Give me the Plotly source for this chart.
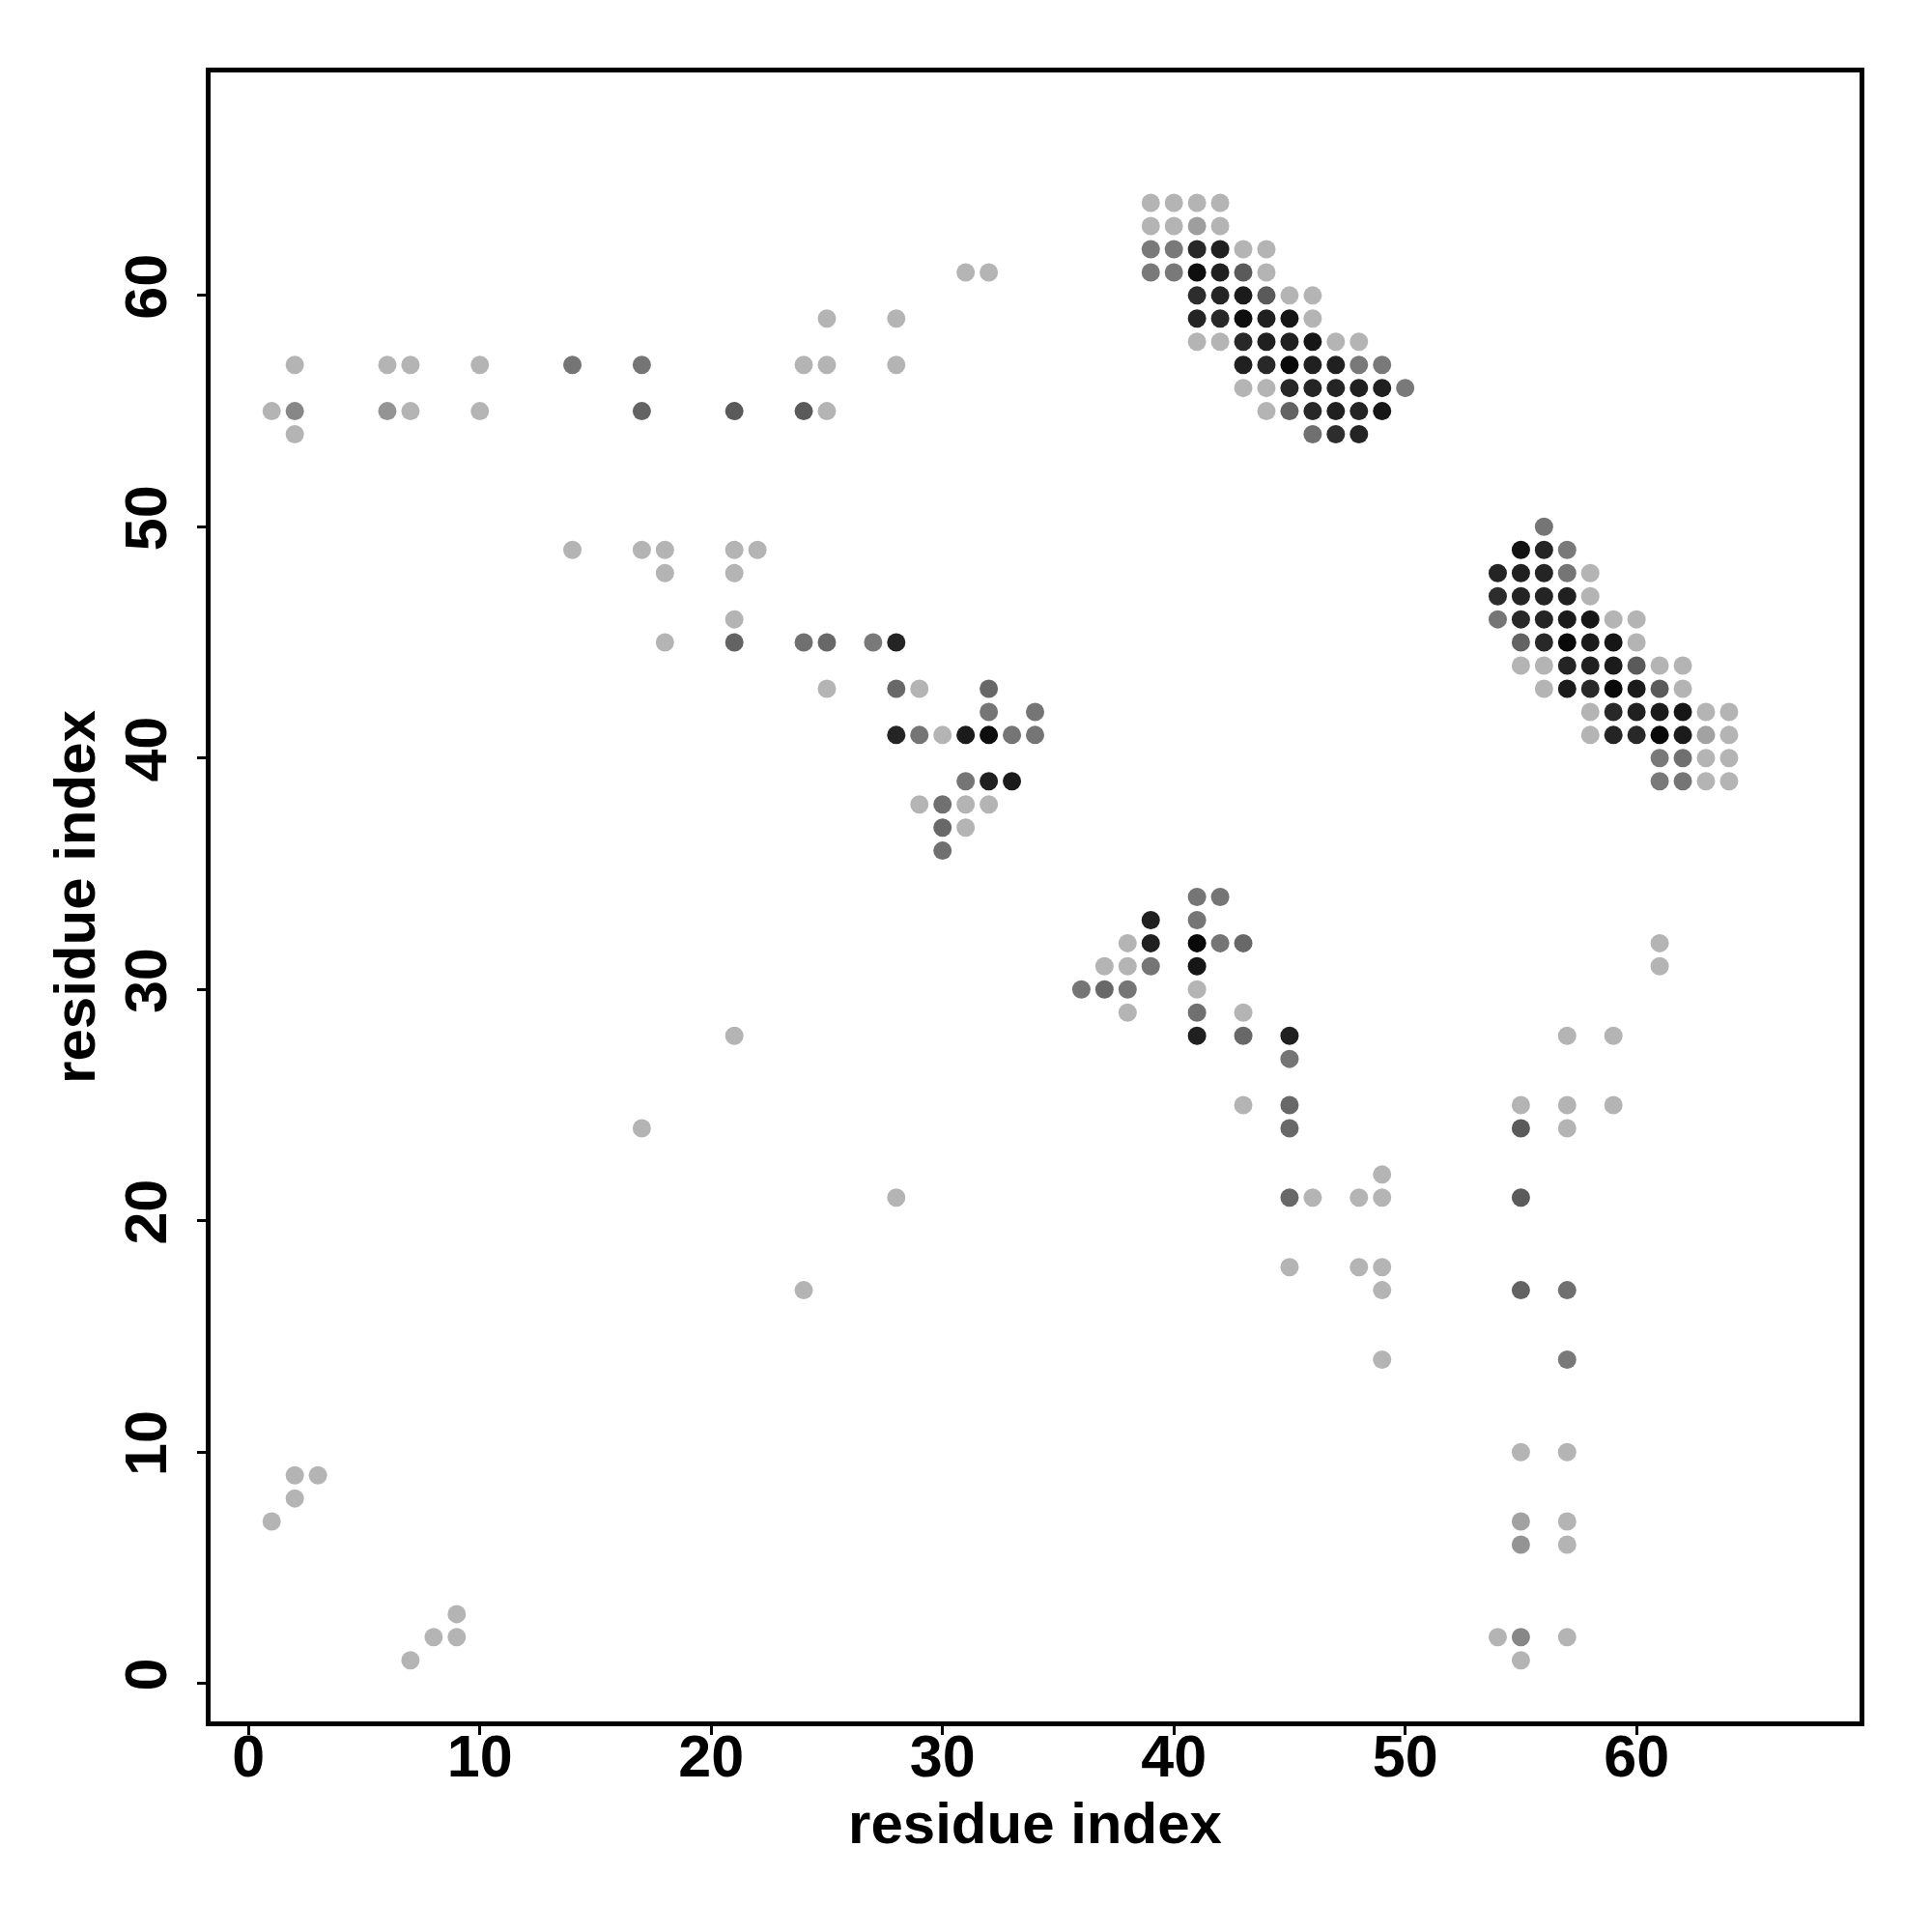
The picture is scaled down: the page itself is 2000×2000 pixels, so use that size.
import plotly.graph_objects as go

# contacts: (residue i, residue j, contact strength 0..1)
cluster_upper = [
    (39, 64, 0.0), (40, 64, 0.0), (41, 64, 0.0), (42, 64, 0.0),
    (39, 63, 0.0), (40, 63, 0.0), (41, 63, 0.12), (42, 63, 0.0),
    (39, 62, 0.33), (40, 62, 0.33), (41, 62, 0.78), (42, 62, 0.82), (43, 62, 0.0), (44, 62, 0.0),
    (39, 61, 0.33), (40, 61, 0.33), (41, 61, 0.92), (42, 61, 0.82), (43, 61, 0.5), (44, 61, 0.0),
    (41, 60, 0.75), (42, 60, 0.8), (43, 60, 0.85), (44, 60, 0.5), (45, 60, 0.0), (46, 60, 0.0),
    (41, 59, 0.8), (42, 59, 0.78), (43, 59, 0.92), (44, 59, 0.82), (45, 59, 0.88), (46, 59, 0.0),
    (41, 58, 0.0), (42, 58, 0.0), (43, 58, 0.78), (44, 58, 0.82), (45, 58, 0.82), (46, 58, 0.88), (47, 58, 0.0), (48, 58, 0.0),
    (43, 57, 0.82), (44, 57, 0.78), (45, 57, 0.95), (46, 57, 0.82), (47, 57, 0.82), (48, 57, 0.33), (49, 57, 0.33),
    (43, 56, 0.0), (44, 56, 0.0), (45, 56, 0.78), (46, 56, 0.8), (47, 56, 0.8), (48, 56, 0.82), (49, 56, 0.82), (50, 56, 0.33),
    (44, 55, 0.0), (45, 55, 0.45), (46, 55, 0.78), (47, 55, 0.82), (48, 55, 0.8), (49, 55, 0.88),
    (46, 54, 0.38), (47, 54, 0.75), (48, 54, 0.8),
]

cluster_right = [
    (56, 50, 0.35),
    (55, 49, 0.9), (56, 49, 0.8), (57, 49, 0.33),
    (54, 48, 0.8), (55, 48, 0.82), (56, 48, 0.8), (57, 48, 0.35), (58, 48, 0.0),
    (54, 47, 0.75), (55, 47, 0.8), (56, 47, 0.8), (57, 47, 0.82), (58, 47, 0.0),
    (54, 46, 0.35), (55, 46, 0.78), (56, 46, 0.8), (57, 46, 0.85), (58, 46, 0.88), (59, 46, 0.0), (60, 46, 0.0),
    (55, 45, 0.45), (56, 45, 0.78), (57, 45, 0.95), (58, 45, 0.85), (59, 45, 0.88), (60, 45, 0.0),
    (55, 44, 0.0), (56, 44, 0.0), (57, 44, 0.8), (58, 44, 0.82), (59, 44, 0.85), (60, 44, 0.5), (61, 44, 0.0), (62, 44, 0.0),
    (56, 43, 0.0), (57, 43, 0.85), (58, 43, 0.78), (59, 43, 0.95), (60, 43, 0.85), (61, 43, 0.5), (62, 43, 0.0),
    (58, 42, 0.0), (59, 42, 0.78), (60, 42, 0.82), (61, 42, 0.85), (62, 42, 0.88), (63, 42, 0.0), (64, 42, 0.0),
    (58, 41, 0.0), (59, 41, 0.8), (60, 41, 0.78), (61, 41, 0.95), (62, 41, 0.85), (63, 41, 0.1), (64, 41, 0.0),
    (61, 40, 0.33), (62, 40, 0.38), (63, 40, 0.0), (64, 40, 0.0),
    (61, 39, 0.33), (62, 39, 0.35), (63, 39, 0.0), (64, 39, 0.0),
]

cluster_middle = [
    (24, 45, 0.38), (25, 45, 0.42), (27, 45, 0.33), (28, 45, 0.8),
    (25, 43, 0.0), (28, 43, 0.42), (29, 43, 0.0), (32, 43, 0.42),
    (32, 42, 0.35), (34, 42, 0.35),
    (28, 41, 0.8), (29, 41, 0.35), (30, 41, 0.0), (31, 41, 0.85), (32, 41, 0.92), (33, 41, 0.35), (34, 41, 0.35),
    (31, 39, 0.35), (32, 39, 0.82), (33, 39, 0.85),
    (29, 38, 0.0), (30, 38, 0.38), (31, 38, 0.0), (32, 38, 0.0),
    (30, 37, 0.42), (31, 37, 0.0),
    (30, 36, 0.38),
]

cluster_lower = [
    (41, 34, 0.35), (42, 34, 0.35),
    (39, 33, 0.82), (41, 33, 0.35),
    (38, 32, 0.0), (39, 32, 0.82), (41, 32, 0.95), (42, 32, 0.35), (43, 32, 0.42),
    (37, 31, 0.0), (38, 31, 0.0), (39, 31, 0.35), (41, 31, 0.88),
    (36, 30, 0.35), (37, 30, 0.42), (38, 30, 0.35), (41, 30, 0.0),
    (38, 29, 0.0), (41, 29, 0.38), (43, 29, 0.0),
    (41, 28, 0.82), (43, 28, 0.42), (45, 28, 0.82),
    (45, 27, 0.35),
    (43, 25, 0.0), (45, 25, 0.42),
    (45, 24, 0.42),
    (49, 22, 0.0),
    (45, 21, 0.42), (46, 21, 0.0), (48, 21, 0.0), (49, 21, 0.0),
    (45, 18, 0.0), (48, 18, 0.0), (49, 18, 0.0),
    (49, 17, 0.0),
    (49, 14, 0.0),
]

row_top = [
    (2, 57, 0.0), (6, 57, 0.0), (7, 57, 0.0), (10, 57, 0.0), (14, 57, 0.35), (17, 57, 0.35),
    (1, 55, 0.0), (2, 55, 0.25), (6, 55, 0.18), (7, 55, 0.0), (10, 55, 0.0), (17, 55, 0.45),
    (2, 54, 0.0),
    (31, 61, 0.0), (32, 61, 0.0),
    (25, 59, 0.0), (28, 59, 0.0),
    (24, 57, 0.0), (25, 57, 0.0), (28, 57, 0.0),
    (21, 55, 0.5), (24, 55, 0.5), (25, 55, 0.0),
]

row_mid = [
    (14, 49, 0.0), (17, 49, 0.0), (18, 49, 0.0), (21, 49, 0.0), (22, 49, 0.0),
    (18, 48, 0.0), (21, 48, 0.0),
    (21, 46, 0.0),
    (18, 45, 0.0), (21, 45, 0.45),
    (21, 28, 0.0), (17, 24, 0.0), (28, 21, 0.0), (24, 17, 0.0),
]

cols_right = [
    (61, 32, 0.0), (61, 31, 0.0),
    (57, 28, 0.0), (59, 28, 0.0),
    (55, 25, 0.0), (57, 25, 0.0), (59, 25, 0.0),
    (55, 24, 0.5), (57, 24, 0.0),
    (55, 21, 0.5),
    (55, 17, 0.45), (57, 17, 0.38),
    (57, 14, 0.33),
    (55, 10, 0.0), (57, 10, 0.0),
    (55, 7, 0.1), (57, 7, 0.0),
    (55, 6, 0.18), (57, 6, 0.0),
    (54, 2, 0.0), (55, 2, 0.25), (57, 2, 0.0),
    (55, 1, 0.0),
]

corner_low = [
    (2, 9, 0.0), (3, 9, 0.0), (2, 8, 0.0), (1, 7, 0.0),
    (9, 3, 0.0), (8, 2, 0.0), (9, 2, 0.0), (7, 1, 0.0),
]

x_ticks = [0, 10, 20, 30, 40, 50, 60]
y_ticks = [0, 10, 20, 30, 40, 50, 60]
axis_title = "residue index"

contacts = (cluster_upper + cluster_right + cluster_middle + cluster_lower
            + row_top + row_mid + cols_right + corner_low)
xs = [c[0] for c in contacts]
ys = [c[1] for c in contacts]
ss = [c[2] for c in contacts]

fig = go.Figure(go.Scatter(
    x=xs, y=ys, mode="markers",
    marker=dict(size=19, color=ss, cmin=0, cmax=1,
                colorscale=[[0, "#b4b4b4"], [1, "#000000"]],
                showscale=False, line=dict(width=0)),
    hoverinfo="x+y",
))

family = "Liberation Sans, Arial, sans-serif"
title_font = dict(family=family, size=60, color="black")
axis_common = dict(
    range=[-1.64, 69.64], showgrid=False, zeroline=False,
    showline=True, mirror=True, linecolor="black", linewidth=5,
    ticks="outside", ticklen=9, tickwidth=3, tickcolor="black",
    tickfont=dict(family=family, size=61, color="black", weight="bold"),
)

fig.update_layout(
    width=1992, height=1992,
    paper_bgcolor="white", plot_bgcolor="white",
    margin=dict(l=210, r=75, t=67, b=218, autoexpand=False),
    showlegend=False,
    xaxis=dict(**axis_common, tickvals=x_ticks, ticktext=[str(v) for v in x_ticks],
               ticklabelstandoff=-30,
               title=dict(text=f"<b>{axis_title}</b>", font=title_font, standoff=16)),
    yaxis=dict(**axis_common, tickvals=y_ticks, ticktext=[str(v) for v in y_ticks],
               tickangle=-90, ticklabelstandoff=8,
               title=dict(text=f"<b>{axis_title}</b>", font=title_font, standoff=0)),
)

fig.write_html("out.html")
